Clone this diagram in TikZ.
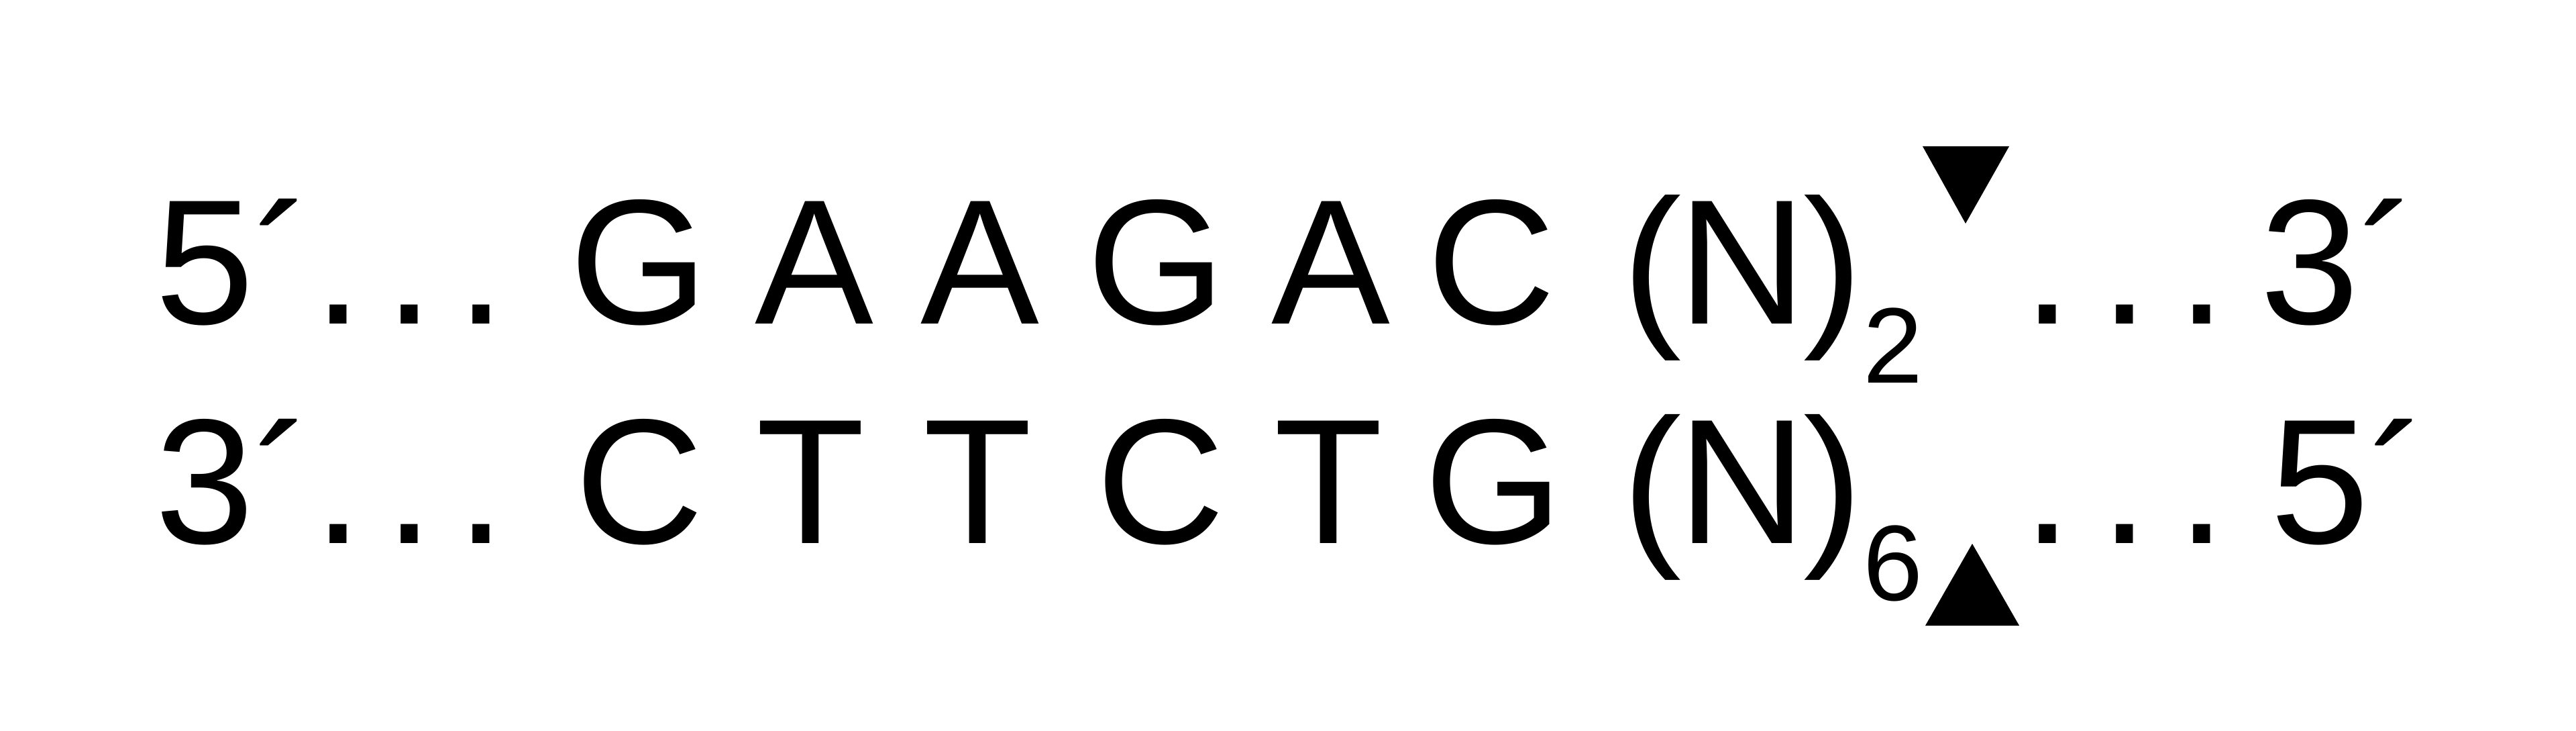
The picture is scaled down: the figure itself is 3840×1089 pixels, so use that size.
\documentclass[tikz,border=0pt]{standalone}
\usepackage{fontspec}
\setmainfont{Liberation Sans}
\newcommand\bigf{\fontsize{75.4pt}{80pt}\selectfont}
\newcommand\subf{\fontsize{45.5pt}{50pt}\selectfont}
\newcommand\acu{\raisebox{-0.09cm}{´}}
\begin{document}
\begin{tikzpicture}[x=0.01cm,y=-0.01cm,
  gl/.style={inner sep=0pt, outer sep=0pt, anchor=base, font=\bigf},
  endl/.style={gl, anchor=base west},
  sb/.style={inner sep=0pt, outer sep=0pt, anchor=base, font=\subf},
  tri/.style={fill=black}]
\fill[white] (0,0) rectangle (3840,1089);
\useasboundingbox (0,0) rectangle (3840,1089);
% ---- top strand ----
\node[endl] (tL) at (231.3,483) {5\acu.\kern0.123em.\kern0.126em.};
\node[gl] (tG1) at (953,483) {G};
\node[gl] (tA1) at (1214,483) {A};
\node[gl] (tA2) at (1461,483) {A};
\node[gl] (tG2) at (1724,483) {G};
\node[gl] (tA3) at (1984,483) {A};
\node[gl] (tC1) at (2223,483) {C};
\node[gl] (tlp) at (2463,483) {(};
\node[gl] (tN) at (2597,483) {N};
\node[gl] (trp) at (2733,483) {)};
\node[sb] (ts) at (2822,571) {2};
\node[endl] (tR) at (3015.2,483) {.\kern0.156em.\kern0.156em.\kern0.19em{}3\acu};
% ---- bottom strand ----
\node[endl] (bL) at (231.3,810) {3\acu.\kern0.123em.\kern0.126em.};
\node[gl] (bC1) at (953,810) {C};
\node[gl] (bT1) at (1208,810) {T};
\node[gl] (bT2) at (1457,810) {T};
\node[gl] (bC2) at (1730,810) {C};
\node[gl] (bT3) at (1980,810) {T};
\node[gl] (bG) at (2227,810) {G};
\node[gl] (blp) at (2463,810) {(};
\node[gl] (bN) at (2597,810) {N};
\node[gl] (brp) at (2733,810) {)};
\node[sb] (bs) at (2822,895) {6};
\node[endl] (bR) at (3015.2,810) {.\kern0.156em.\kern0.156em.\kern0.247em{}5\acu};
% ---- cleavage marks ----
\fill[tri] (2866,218) -- (2995,218) -- (2930,333) -- cycle;
\fill[tri] (2870,932) -- (3010,932) -- (2940,810) -- cycle;
\end{tikzpicture}
\end{document}
